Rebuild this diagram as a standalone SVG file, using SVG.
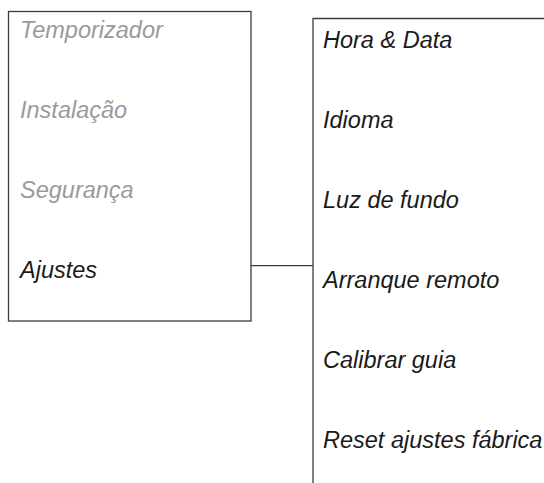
<svg xmlns="http://www.w3.org/2000/svg" width="544" height="483" viewBox="0 0 544 483">
<style>
.box{fill:none;stroke:#3c3c3c;stroke-width:1.3}
.t{font-family:"Liberation Sans",Arial,sans-serif;font-style:italic;font-size:23.5px}
.g{fill:#9a9a9a}
.k{fill:#1a1a1a}
.c{stroke:#3c3c3c;stroke-width:1.3;fill:none}
</style>
<rect width="544" height="483" fill="#fff"/>
<g id="menu">
<rect class="box" x="8.5" y="11.5" width="242.5" height="309.5"/>
<text class="t g" x="20" y="37.5">Temporizador</text>
<text class="t g" x="20" y="117.5">Instalação</text>
<text class="t g" x="20" y="197.5">Segurança</text>
<text class="t k" x="20" y="277.5">Ajustes</text>
</g>
<g id="submenu">
<path class="box" d="M313 490 V18.5 H550"/>
<text class="t k" x="323" y="47.5">Hora &amp; Data</text>
<text class="t k" x="323" y="127.5">Idioma</text>
<text class="t k" x="323" y="207.5">Luz de fundo</text>
<text class="t k" x="323" y="287.5">Arranque remoto</text>
<text class="t k" x="323" y="367.5">Calibrar guia</text>
<text class="t k" x="323" y="447.5">Reset ajustes fábrica</text>
</g>
<g id="connectors">
<path class="c" d="M251 265.7 H313"/>
</g>
</svg>
